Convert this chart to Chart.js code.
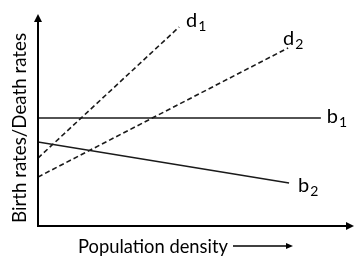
<!DOCTYPE html>
<html>
<head>
<meta charset="utf-8">
<script src="https://cdn.jsdelivr.net/npm/chart.js@4/dist/chart.umd.min.js"></script>
<style>
  html, body { margin: 0; padding: 0; background: #fff; }
  #wrap { width: 356px; height: 256px; }
</style>
</head>
<body>
<div id="wrap"><canvas id="grafico"></canvas></div>
<script>
// series names (letter + subscript)
const seriesNames = ["d1", "d2", "b1", "b2"];

// x values (population density, arbitrary units)
const d1X = [0, 4.48];
const d2X = [0, 7.94];
const b1X = [0, 8.98];
const b2X = [0, 7.97];

// y values (rates, arbitrary units)
const d1Y = [3.22, 9.43];
const d2Y = [2.32, 8.44];
const b1Y = [5.12, 5.12];
const b2Y = [3.98, 2.04];

const axisTitleX = "Population density";
const axisTitleY = "Birth rates/Death rates";

function pontos(xs, ys) {
  return xs.map((x, i) => ({ x: x, y: ys[i] }));
}

// label offsets from the last point of each line (px)
const labelOffsets = [[7, 0], [-5, -3], [6, 5], [9, 9]];

// pick a font size so the text spans roughly the given width
function ajustaFonte(ctx, texto, largura, familia) {
  ctx.font = "20px " + familia;
  const w = ctx.measureText(texto).width;
  const tam = 20 * largura / w;
  ctx.font = tam.toFixed(2) + "px " + familia;
}

const eixosPlugin = {
  id: "eixos",
  afterDraw(chart) {
    const ctx = chart.ctx;
    const a = chart.chartArea;
    const familia = "Lato";
    ctx.save();
    // axes with arrows
    ctx.strokeStyle = "#000";
    ctx.fillStyle = "#000";
    ctx.lineWidth = 2;
    ctx.beginPath();
    ctx.moveTo(a.left, a.top + 4);
    ctx.lineTo(a.left, a.bottom);
    ctx.lineTo(a.right - 4, a.bottom);
    ctx.stroke();
    ctx.beginPath();
    ctx.moveTo(a.left, a.top - 1);
    ctx.lineTo(a.left - 4, a.top + 7);
    ctx.lineTo(a.left + 4, a.top + 7);
    ctx.closePath();
    ctx.fill();
    ctx.beginPath();
    ctx.moveTo(a.right + 1, a.bottom);
    ctx.lineTo(a.right - 7, a.bottom - 4);
    ctx.lineTo(a.right - 7, a.bottom + 4);
    ctx.closePath();
    ctx.fill();

    // axis titles
    ctx.fillStyle = "#000";
    ctx.textBaseline = "alphabetic";
    ctx.textAlign = "left";
    ajustaFonte(ctx, axisTitleX, 150, familia);
    ctx.fillText(axisTitleX, 78, 253);
    // small arrow after x title
    const ax0 = 233, ax1 = 293, ay = 246;
    ctx.lineWidth = 1.3;
    ctx.beginPath();
    ctx.moveTo(ax0, ay);
    ctx.lineTo(ax1 - 3, ay);
    ctx.stroke();
    ctx.beginPath();
    ctx.moveTo(ax1, ay);
    ctx.lineTo(ax1 - 7, ay - 3);
    ctx.lineTo(ax1 - 7, ay + 3);
    ctx.closePath();
    ctx.fill();

    ctx.save();
    ctx.translate(26, 128);
    ctx.rotate(-Math.PI / 2);
    ctx.textAlign = "center";
    ajustaFonte(ctx, axisTitleY, 190, familia);
    ctx.fillText(axisTitleY, 0, 0);
    ctx.restore();

    // line end labels with subscript
    chart.data.datasets.forEach((ds, i) => {
      const meta = chart.getDatasetMeta(i);
      const p = meta.data[meta.data.length - 1];
      const nome = seriesNames[i];
      const x = p.x + labelOffsets[i][0];
      const y = p.y + labelOffsets[i][1];
      ctx.textAlign = "left";
      ctx.font = "20px " + familia;
      ctx.fillText(nome[0], x, y);
      const lw = ctx.measureText(nome[0]).width;
      ctx.font = "14px " + familia;
      ctx.fillText(nome.slice(1), x + lw + 1, y + 4);
    });
    ctx.restore();
  }
};

const estiloLinha = (dashed) => ({
  borderColor: "#1a1a1a",
  borderWidth: 1.6,
  borderDash: dashed ? [5, 3] : [],
  pointRadius: 0,
  showLine: true,
  fill: false,
  tension: 0,
});

new Chart(document.getElementById("grafico"), {
  type: "scatter",
  data: {
    datasets: [
      { label: seriesNames[0], data: pontos(d1X, d1Y), ...estiloLinha(true) },
      { label: seriesNames[1], data: pontos(d2X, d2Y), ...estiloLinha(true) },
      { label: seriesNames[2], data: pontos(b1X, b1Y), ...estiloLinha(false) },
      { label: seriesNames[3], data: pontos(b2X, b2Y), ...estiloLinha(false) },
    ],
  },
  options: {
    responsive: true,
    maintainAspectRatio: false,
    animation: false,
    layout: { padding: { left: 38, top: 15, right: 3, bottom: 30 } },
    plugins: {
      legend: { display: false },
      tooltip: { enabled: false },
      title: { display: false },
    },
    scales: {
      x: { type: "linear", min: 0, max: 10, display: false },
      y: { type: "linear", min: 0, max: 10, display: false },
    },
  },
  plugins: [eixosPlugin],
});
</script>
</body>
</html>
